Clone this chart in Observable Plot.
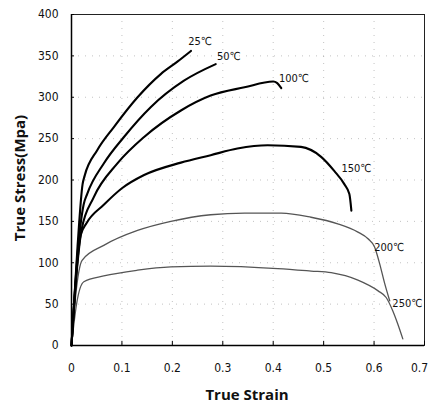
<!DOCTYPE html>
<html>
<head>
<meta charset="utf-8">
<script src="https://cdn.jsdelivr.net/npm/d3@7"></script>
<script src="https://cdn.jsdelivr.net/npm/@observablehq/plot@0.6"></script>
<style>
  html, body { margin: 0; padding: 0; background: #fff; }
  #chart { width: 430px; height: 412px; }
</style>
</head>
<body>
<div id="chart"></div>
<script>
// ---- data ----
const temps = ["25℃", "50℃", "100℃", "150℃", "200℃", "250℃"];

const strain25 = [0, 0.012, 0.022, 0.026, 0.051, 0.084, 0.131, 0.177, 0.21, 0.237];
const stress25 = [0, 120, 195, 205, 236, 264, 300, 328, 343, 356];

const strain50 = [0, 0.012, 0.024, 0.031, 0.064, 0.104, 0.157, 0.223, 0.286];
const stress50 = [0, 110, 170, 183, 220, 252, 288, 320, 340];

const strain100 = [0, 0.012, 0.02, 0.044, 0.091, 0.144, 0.217, 0.276, 0.343, 0.4, 0.408, 0.416];
const stress100 = [0, 100, 140, 179, 220, 252, 284, 302, 312, 319, 317, 311];

const strain150 = [0, 0.01, 0.018, 0.03, 0.064, 0.1, 0.144, 0.217, 0.276, 0.329, 0.389, 0.455, 0.495, 0.521, 0.541, 0.551, 0.555];
const stress150 = [0, 90, 133, 148, 170, 190, 206, 221, 230, 238, 242, 240, 228, 211, 195, 183, 163];

const strain200 = [0, 0.01, 0.021, 0.064, 0.131, 0.197, 0.276, 0.343, 0.416, 0.475, 0.528, 0.568, 0.588, 0.601, 0.611, 0.621, 0.631];
const stress200 = [0, 70, 103, 121, 139, 150, 158, 160, 160, 155, 147, 137, 129, 119, 99, 75, 54];

const strain250 = [0, 0.01, 0.0245, 0.064, 0.131, 0.197, 0.276, 0.409, 0.475, 0.515, 0.568, 0.608, 0.624, 0.637, 0.647, 0.657];
const stress250 = [0, 50, 77, 84, 91, 95, 96, 93, 90, 88, 79, 66, 58, 42, 26, 8];

const labelStrain = [0.255, 0.312, 0.441, 0.565, 0.63, 0.666];
const labelStress = [367, 349, 323, 214, 118, 51];

const xTicks = [0, 0.1, 0.2, 0.3, 0.4, 0.5, 0.6, 0.7];
const xTickLabels = ["0", "0.1", "0.2", "0.3", "0.4", "0.5", "0.6", "0.7"];
const yTicks = [0, 50, 100, 150, 200, 250, 300, 350, 400];

// ---- build tables ----
const seriesStrain = [strain25, strain50, strain100, strain150, strain200, strain250];
const seriesStress = [stress25, stress50, stress100, stress150, stress200, stress250];
const rows = [];
temps.forEach((t, i) => {
  seriesStrain[i].forEach((x, j) => rows.push({temp: t, idx: i, strain: x, stress: seriesStress[i][j]}));
});
const boldRows = rows.filter(d => d.idx < 4);
const thinRows = rows.filter(d => d.idx >= 4);
const labels = temps.map((t, i) => ({t, x: labelStrain[i], y: labelStress[i]}));

const tickFont = '"DejaVu Sans Condensed", "Liberation Sans Narrow", sans-serif';
const fmtX = d => xTickLabels[xTicks.indexOf(d)];

const chart = Plot.plot({
  width: 430,
  height: 412,
  marginLeft: 71,
  marginRight: 6,
  marginTop: 14,
  marginBottom: 67,
  style: {fontFamily: tickFont, fontSize: "12px", color: "#111", background: "#fff"},
  x: {domain: [0, 0.7], label: null},
  y: {domain: [0, 400], label: null},
  marks: [
    Plot.gridX(xTicks.slice(1, -1), {stroke: "#888", strokeOpacity: 0.5, strokeDasharray: "1,6"}),
    Plot.gridY(yTicks.slice(1, -1), {stroke: "#888", strokeOpacity: 0.5, strokeDasharray: "1,6"}),
    Plot.frame({stroke: "#222", strokeWidth: 1}),
    Plot.ruleY([0], {stroke: "#000", strokeWidth: 1.5}),
    Plot.ruleX([0], {stroke: "#000", strokeWidth: 1.5}),
    Plot.ruleX(xTicks, {y1: 0, y2: 5, stroke: "#000", strokeWidth: 1}),
    Plot.ruleY(yTicks, {x1: 0, x2: 0.006, stroke: "#000", strokeWidth: 1}),
    Plot.axisX(xTicks.slice(0, -1), {tickSize: 0, tickPadding: 18, tickFormat: fmtX, fontSize: 12, label: null}),
    Plot.axisX(xTicks.slice(-1), {tickSize: 0, tickPadding: 18, tickFormat: fmtX, fontSize: 12, label: null, dx: -5}),
    Plot.axisY(yTicks, {tickSize: 0, tickPadding: 13, fontSize: 12, label: null}),
    Plot.line(thinRows, {x: "strain", y: "stress", z: "temp", stroke: "#555", strokeWidth: 1.3, curve: "monotone-x"}),
    Plot.line(boldRows, {x: "strain", y: "stress", z: "temp", stroke: "#000", strokeWidth: 2.1, curve: "monotone-x"}),
    Plot.text(labels, {x: "x", y: "y", text: "t", fontSize: 11, fill: "#111", fontFamily: tickFont})
  ]
});

document.getElementById("chart").appendChild(chart);

// axis titles as real text in the SVG
const svg = d3.select(chart);
svg.append("text")
  .attr("x", 247).attr("y", 400)
  .attr("text-anchor", "middle")
  .style("font-family", '"Open Sans", "Noto Sans", sans-serif')
  .style("font-weight", "bold").style("font-size", "15px").style("fill", "#111")
  .text("True Strain");
svg.append("text")
  .attr("transform", "translate(25,178) rotate(-90)")
  .attr("text-anchor", "middle")
  .style("font-family", '"Open Sans", "Noto Sans", sans-serif')
  .style("font-weight", "bold").style("font-size", "15px").style("fill", "#111")
  .text("True Stress(Mpa)");
</script>
</body>
</html>
